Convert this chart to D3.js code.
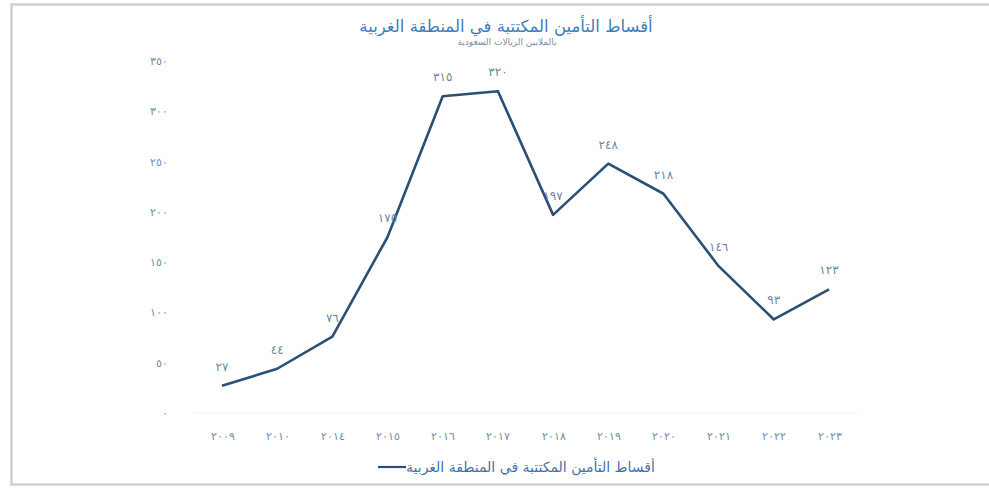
<!DOCTYPE html>
<html>
<head>
<meta charset="utf-8">
<script src="https://cdn.jsdelivr.net/npm/d3@7"></script>
<style>
  body { margin: 0; background: #fff; overflow: hidden; }
  svg { display: block; font-family: "DejaVu Sans", sans-serif; }
</style>
</head>
<body>
<svg width="989" height="489"></svg>
<script>
const years = ["2009", "2010", "2014", "2015", "2016", "2017", "2018", "2019", "2020", "2021", "2022", "2023"];
const premiums = [27, 44, 76, 175, 315, 320, 197, 248, 218, 146, 93, 123];
const yTicks = [0, 50, 100, 150, 200, 250, 300, 350];
const chartTitle = "أقساط التأمين المكتتبة في المنطقة الغربية";
const chartSubtitle = "بالملايين الريالات السعودية";
const seriesName = "أقساط التأمين المكتتبة في المنطقة الغربية";

const arDigits = "٠١٢٣٤٥٦٧٨٩";
const toArabic = (s) => String(s).replace(/[0-9]/g, (d) => arDigits[+d]);

const svg = d3.select("svg");

// outer frame (right edge runs off the page)
svg.append("rect")
  .attr("x", 11.5).attr("y", 4.5)
  .attr("width", 990).attr("height", 480)
  .attr("fill", "none")
  .attr("stroke", "#d0d0d0")
  .attr("stroke-width", 2.5);

const x = d3.scalePoint().domain(years).range([222, 829]);
const y = d3.scaleLinear().domain([0, 350]).range([413, 61]);

// baseline
svg.append("line")
  .attr("x1", 195).attr("x2", 857)
  .attr("y1", y(0)).attr("y2", y(0))
  .attr("stroke", "#eef1f4").attr("stroke-width", 1);

// y axis
const yAxis = svg.append("g")
  .attr("transform", "translate(168,0)")
  .call(d3.axisLeft(y).tickValues(yTicks).tickSize(0).tickPadding(0).tickFormat(toArabic));
yAxis.select(".domain").remove();
yAxis.selectAll("text")
  .attr("fill", "#6d8cab")
  .attr("font-size", 11)
  .attr("letter-spacing", 3);

// x axis
const xAxis = svg.append("g")
  .attr("transform", `translate(0,${y(0)})`)
  .call(d3.axisBottom(x).tickSize(0).tickPadding(19).tickFormat(toArabic));
xAxis.select(".domain").remove();
xAxis.selectAll("text")
  .attr("fill", "#6d8cab")
  .attr("font-size", 11)
  .attr("letter-spacing", 3);

// line
const line = d3.line()
  .x((d, i) => x(years[i]))
  .y((d) => y(d));

svg.append("path")
  .datum(premiums)
  .attr("d", line)
  .attr("fill", "none")
  .attr("stroke", "#2c4f74")
  .attr("stroke-width", 2.6)
  .attr("stroke-linejoin", "round");

// data labels
svg.append("g")
  .selectAll("text")
  .data(premiums)
  .join("text")
  .attr("x", (d, i) => x(years[i]))
  .attr("y", (d) => y(d) - 15)
  .attr("text-anchor", "middle")
  .attr("fill", "#6a87a3")
  .attr("font-size", 12)
  .attr("letter-spacing", 3)
  .text(toArabic);

// title
svg.append("text")
  .attr("x", 506).attr("y", 32)
  .attr("text-anchor", "middle")
  .attr("fill", "#3f7db5")
  .attr("font-size", 16.5)
  .text(chartTitle);

svg.append("text")
  .attr("x", 507).attr("y", 45)
  .attr("text-anchor", "middle")
  .attr("fill", "#7a8fa3")
  .attr("font-size", 9)
  .text(chartSubtitle);

// legend
const legend = svg.append("g").attr("transform", "translate(0,467)");
legend.append("line")
  .attr("x1", 378).attr("x2", 406)
  .attr("stroke", "#2c4f74").attr("stroke-width", 2.2);
legend.append("text")
  .attr("x", 406).attr("y", 5)
  .attr("text-anchor", "start")
  .attr("direction", "ltr")
  .attr("fill", "#3f73a6")
  .attr("font-size", 14)
  .text(seriesName);
</script>
</body>
</html>
